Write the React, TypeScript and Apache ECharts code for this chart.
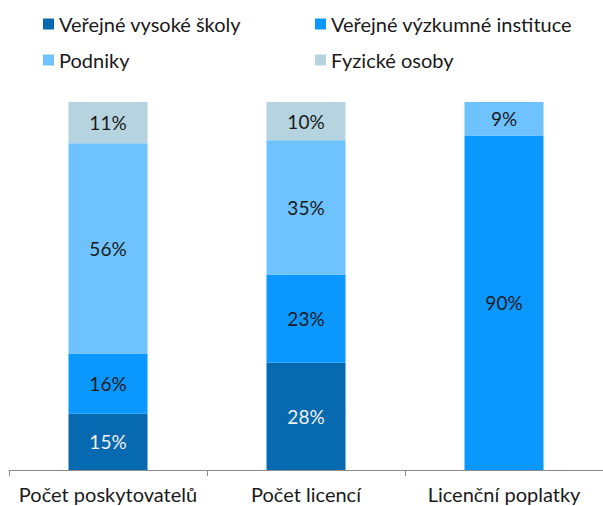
import React, { useEffect, useRef } from "react";
import * as echarts from "echarts";

const categories = ["Počet poskytovatelů", "Počet licencí", "Licenční poplatky"];
const seriesNames = ["Veřejné vysoké školy", "Veřejné výzkumné instituce", "Podniky", "Fyzické osoby"];
const vysokeSkoly = [15, 28, 0];
const vyzkumneInstituce = [16, 23, 90];
const podniky = [56, 35, 9];
const fyzickeOsoby = [11, 10, 0];
const colors = ["#0769AF", "#0A98FF", "#6EC3FF", "#B5D4E0"];
const labelColors = ["#F2F2F2", "#1A1A1A", "#1A1A1A", "#1A1A1A"];

export default function App() {
  const ref = useRef<HTMLDivElement>(null);
  useEffect(() => {
    if (!ref.current) return;
    const chart = echarts.init(ref.current, null, { renderer: "svg" });
    const raw = [vysokeSkoly, vyzkumneInstituce, podniky, fyzickeOsoby];
    const totals = categories.map((_, i) => raw.reduce((s, arr) => s + arr[i], 0));
    const font = "Lato, 'Open Sans', sans-serif";
    const legendBase = {
      orient: "vertical",
      top: 8,
      itemWidth: 11,
      itemHeight: 11,
      itemGap: 14,
      icon: "rect",
      textStyle: { fontFamily: font, fontSize: 20, color: "#1A1A1A", lineHeight: 22, padding: [0, 0, 0, 0] },
    };
    chart.setOption({
      animation: false,
      legend: [
        { ...legendBase, data: [seriesNames[0], seriesNames[2]], left: 38 },
        { ...legendBase, data: [seriesNames[1], seriesNames[3]], left: 310 },
      ],
      grid: { left: 9, right: 0, top: 102, bottom: 36 },
      xAxis: {
        type: "category",
        data: categories,
        axisLine: { lineStyle: { color: "#8C8C8C", width: 1 } },
        axisTick: { show: true, length: 6, lineStyle: { color: "#8C8C8C" } },
        axisLabel: {
          fontFamily: font,
          fontSize: 20,
          lineHeight: 20,
          color: "#1A1A1A",
          margin: 14,
          interval: 0,
          hideOverlap: false,
        },
      },
      yAxis: { type: "value", min: 0, max: 100, show: false, splitLine: { show: false } },
      series: raw.map((arr, si) => ({
        name: seriesNames[si],
        type: "bar",
        stack: "total",
        barWidth: 79,
        itemStyle: { color: colors[si] },
        data: arr.map((v, i) => ({ value: v === 0 ? null : (v / totals[i]) * 100, raw: v })),
        label: {
          show: true,
          position: "inside",
          fontFamily: font,
          fontSize: 19,
          color: labelColors[si],
          formatter: (p: any) => (p.data && p.data.raw ? p.data.raw + "%" : ""),
        },
      })),
    });
    return () => chart.dispose();
  }, []);
  return <div ref={ref} style={{ position: "absolute", left: 0, top: 0, width: 603, height: 506 }} />;
}
